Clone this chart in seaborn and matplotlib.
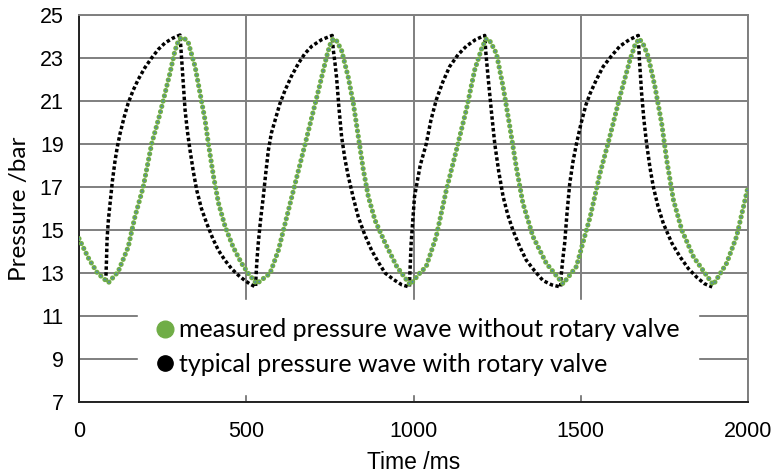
import matplotlib
matplotlib.use("Agg")
import matplotlib.pyplot as plt
from matplotlib.lines import Line2D
from matplotlib.ticker import MultipleLocator
import seaborn as sns
import pandas as pd

# ---------------- data ----------------
green_t = [0, 28, 55, 88, 117, 147, 167, 192, 217, 242, 257, 272, 287, 296, 305, 316, 327, 347,
           362, 377, 387, 402, 417, 437, 461, 486, 506, 531, 571, 596, 621, 646, 676,
           696, 716, 740, 750, 760, 770, 785, 805, 820, 835, 850, 865, 885, 915, 950, 990, 1019,
           1038, 1068, 1098, 1128, 1158, 1183, 1205, 1218, 1230, 1248, 1268, 1288, 1307, 1327, 1357,
           1397, 1447, 1487, 1517, 1528, 1557, 1587, 1617, 1647, 1662, 1675, 1688, 1702, 1722, 1742,
           1757, 1777, 1802, 1837, 1896, 1936, 1966, 2000]
green_p = [14.6, 13.7, 13.0, 12.55, 13.06, 14.2, 15.6, 17.0, 19.0, 20.4, 21.35, 22.3,
           23.35, 23.75, 23.95, 23.9, 23.7, 22.6, 21.35, 20.1, 19.0, 17.5, 16.25, 15.15, 14.2, 13.45,
           12.98, 12.5, 12.98, 14.05, 15.6, 17.15, 19.0, 20.25, 21.5, 23.05, 23.6, 23.9, 23.8, 23.35,
           22.1, 20.9, 19.35, 17.8, 16.55, 15.45, 14.4, 13.3, 12.45, 13.0, 13.3, 14.7,
           16.85, 18.7, 20.6, 22.45, 23.5, 23.9, 23.75, 23.2, 21.65, 19.8, 17.95, 16.25, 14.7, 13.45,
           12.5, 13.3, 15.0, 15.6, 17.6, 19.35, 21.2, 22.9, 23.6, 23.9, 23.6, 23.05, 21.65, 19.95,
           18.25, 16.4, 15.0, 13.75, 12.45, 13.45, 14.7, 17.0]

black_t = [80, 82, 84, 88, 93, 100, 108, 115, 123, 135, 147, 162, 177, 197, 217, 237, 257, 280, 302,
           304, 307, 312, 317, 324, 332, 342, 352, 366, 382, 400, 417, 436, 456, 476, 496, 512, 528,
           529, 532, 536, 543, 551, 558, 566, 575, 586, 600, 616, 635, 656, 675, 696, 725, 757,
           760, 765, 770, 777, 785, 795, 805, 820, 835, 855, 875, 895, 915, 940, 965, 988,
           989, 991, 993, 998, 1003, 1020, 1038, 1052, 1068, 1088, 1108, 1133, 1158, 1185, 1213,
           1216, 1223, 1233, 1243, 1255, 1268, 1282, 1297, 1317, 1337, 1362, 1387, 1413, 1440,
           1441, 1446, 1452, 1459, 1467, 1477, 1487, 1500, 1515, 1528, 1547, 1567, 1592, 1617, 1645, 1672,
           1675, 1682, 1689, 1697, 1707, 1717, 1731, 1747, 1772, 1797, 1822, 1847, 1870, 1893]
black_p = [12.6, 13.5, 14.6, 15.5, 16.25, 17.3, 18.25, 18.9, 19.5, 20.25, 20.9, 21.5, 22.0, 22.55,
           23.0, 23.4, 23.7, 23.92, 24.07,
           23.6, 22.9, 21.7, 20.6, 19.6, 18.7, 17.7, 16.85, 16.0, 15.3, 14.6, 14.05, 13.6, 13.2, 12.9,
           12.65, 12.48, 12.35,
           12.8, 13.6, 14.4, 15.5, 16.55, 17.6, 18.7, 19.5, 20.1, 20.85, 21.5, 22.15, 22.75, 23.2, 23.55,
           23.85, 24.05,
           23.4, 22.8, 22.1, 20.7, 19.35, 18.3, 17.5, 16.5, 15.6, 14.75, 14.05, 13.5, 13.0, 12.7, 12.45,
           12.35,
           12.9, 13.6, 14.4, 15.5, 16.55, 18.0, 19.0, 20.1, 21.05, 21.9, 22.6, 23.15, 23.55, 23.85, 24.05,
           23.3, 22.1, 20.5, 19.0, 17.7, 16.55, 15.7, 15.0, 14.25, 13.6, 13.1, 12.65, 12.45, 12.35,
           12.8, 13.6, 14.4, 15.8, 17.15, 18.2, 19.0, 19.9, 20.8, 21.35, 22.0, 22.6, 23.1, 23.55, 23.85,
           24.05,
           23.0, 21.35, 20.1, 19.0, 17.9, 17.0, 16.1, 15.3, 14.4, 13.75, 13.2, 12.8, 12.5, 12.35]

x_ticks = [0, 500, 1000, 1500, 2000]
y_ticks = [7, 9, 11, 13, 15, 17, 19, 21, 23, 25]
legend_labels = ["measured pressure wave without rotary valve",
                 "typical pressure wave with rotary valve"]
x_label = "Time /ms"
y_label = "Pressure /bar"

GREEN = "#70AD47"
BLUE = "#4A7EC8"
GRID = "#7F7F7F"

# ---------------- figure ----------------
sns.set_theme(style="white")
plt.rcParams["font.family"] = ["Liberation Sans", "DejaVu Sans"]
plt.rcParams["text.color"] = "black"
plt.rcParams["axes.labelcolor"] = "black"
plt.rcParams["xtick.color"] = "black"
plt.rcParams["ytick.color"] = "black"

fig = plt.figure(figsize=(7.76, 4.74), dpi=100)
ax = fig.add_axes([79 / 776, 1 - 402 / 474, (748 - 79) / 776, (402 - 15) / 474])

dfg = pd.DataFrame({"t": green_t, "p": green_p})
dfb = pd.DataFrame({"t": black_t, "p": black_p})

# black dotted (typical)
sns.lineplot(data=dfb, x="t", y="p", ax=ax, color="black", lw=2.5,
             linestyle=(0, (1.0, 0.7)), dash_capstyle="butt", zorder=3)
# green round dots with blue centres (measured)
GW, GB, GAP = 3.7, 1.2, 1.05
sns.lineplot(data=dfg, x="t", y="p", ax=ax, color=GREEN, lw=GW,
             linestyle=(0, (0.01, GAP)), dash_capstyle="round", zorder=4)
sns.lineplot(data=dfg, x="t", y="p", ax=ax, color=BLUE, lw=GB,
             linestyle=(0, (0.01 * GW / GB, GAP * GW / GB)), dash_capstyle="round", zorder=5)

ax.set_xlim(0, 2000)
ax.set_ylim(7, 25)
ax.set_xticks(x_ticks)
ax.set_yticks(y_ticks)
ax.xaxis.set_minor_locator(MultipleLocator(100))
ax.yaxis.set_minor_locator(MultipleLocator(0.4))

ax.grid(True, which="major", color=GRID, lw=1.4, zorder=0)
ax.set_axisbelow(True)

for s in ["top", "right"]:
    ax.spines[s].set_color(GRID)
    ax.spines[s].set_linewidth(1.4)
for s in ["left", "bottom"]:
    ax.spines[s].set_color("#222222")
    ax.spines[s].set_linewidth(1.4)

ax.tick_params(axis="both", which="major", direction="out", length=5, width=1.2,
               color="#222222", labelsize=15.5, labelcolor="black")
ax.tick_params(axis="both", which="minor", direction="out", length=3.2, width=1.0,
               color="#222222")
ax.tick_params(axis="x", which="major", pad=9)
ax.tick_params(axis="y", which="major", pad=6)

ax.set_xlabel(x_label, fontsize=16.5, family=["Liberation Sans", "DejaVu Sans"],
              labelpad=6, color="black")
ax.set_ylabel(y_label, fontsize=17.5, family=["Lato", "DejaVu Sans"], labelpad=7,
              color="black")

handles = [Line2D([], [], marker="o", linestyle="", markersize=12, color=GREEN),
           Line2D([], [], marker="o", linestyle="", markersize=11, color="black")]
leg = ax.legend(handles, legend_labels, loc="center",
                bbox_to_anchor=(418 / 776, 1 - 347 / 474), bbox_transform=fig.transFigure,
                frameon=True, fancybox=False, facecolor="white", edgecolor="white",
                framealpha=1, prop={"family": ["Lato", "DejaVu Sans"], "size": 18},
                handlelength=0.7, handletextpad=0.2, borderpad=0.75, labelspacing=0.45,
                borderaxespad=0, labelcolor="black")
leg.set_zorder(2)

fig.savefig("out.png", dpi=100)
